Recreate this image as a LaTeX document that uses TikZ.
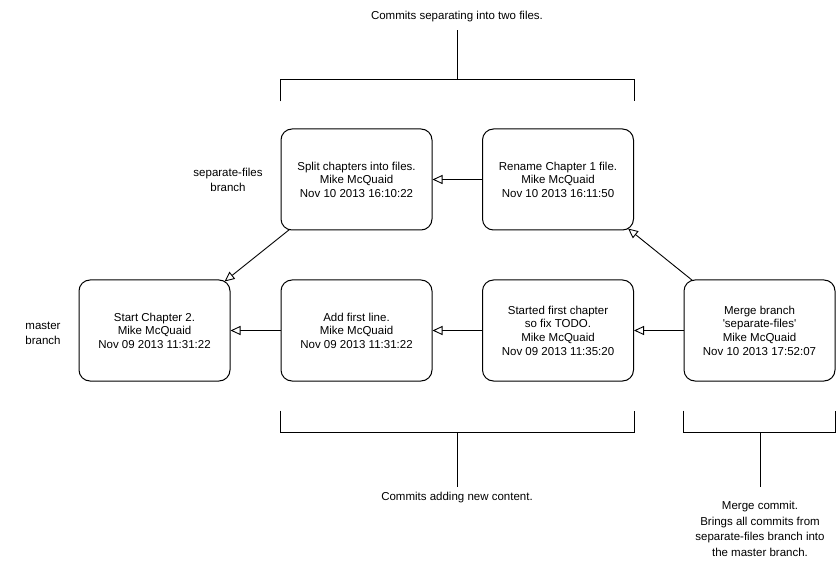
\documentclass[tikz,border=0pt]{standalone}
\usepackage{fontspec}
\setmainfont{Liberation Sans}[Ligatures=TeXOff]
\usetikzlibrary{arrows.meta,calc}
\begin{document}
\begin{tikzpicture}[x=1pt,y=-1pt,
  commit/.style={draw, line width=1pt, rounded corners=11pt, minimum width=151pt, minimum height=101pt, align=center, inner sep=0pt, font=\fontsize{11.5}{13.6}\selectfont},
  lbl/.style={align=center, inner sep=0pt, font=\fontsize{11.5}{15}\selectfont},
  parent/.style={draw, line width=0.9pt, -{Triangle[open, length=10pt, width=9pt, fill=white]}},
  brk/.style={draw, line width=0.9pt}]
\useasboundingbox (0,0) rectangle (838,561);
% commits
\node[commit] (split) at (356.5,179.5) {Split chapters into files.\\Mike McQuaid\\Nov 10 2013 16:10:22};
\node[commit] (rename) at (558,179.5) {Rename Chapter 1 file.\\Mike McQuaid\\Nov 10 2013 16:11:50};
\node[commit] (start) at (154.5,330.5) {Start Chapter 2.\\Mike McQuaid\\Nov 09 2013 11:31:22};
\node[commit] (add) at (356.5,330.5) {Add first line.\\Mike McQuaid\\Nov 09 2013 11:31:22};
\node[commit] (started) at (558,330.5) {Started first chapter\\so fix TODO.\\Mike McQuaid\\Nov 09 2013 11:35:20};
\node[commit] (merge) at (759.5,330.5) {Merge branch\\'separate-files'\\Mike McQuaid\\Nov 10 2013 17:52:07};
% branch labels
\node[lbl] (sfb) at (228,180) {separate-files\\branch};
\node[lbl] (mb) at (43,333) {master\\branch};
% parent arrows
\draw[parent] (rename) -- (split);
\draw[parent] (merge) -- (started);
\draw[parent] (started) -- (add);
\draw[parent] (add) -- (start);
\coordinate (sd) at ($(split.south west)+(9,-1)$);
\coordinate (st) at ($(start.north east)+(-6,2)$);
\draw[parent] (sd) -- (st);
\coordinate (md) at ($(merge.north west)+(9,1)$);
\coordinate (rt) at ($(rename.south east)+(-6,-2)$);
\draw[parent] (md) -- (rt);
% top bracket
\node[lbl] (topt) at (457,17) {Commits separating into two files.};
\coordinate (tl) at ($(split.north west)+(0,-49)$);
\coordinate (tr) at ($(rename.north east)+(0,-49)$);
\draw[brk] ($(split.north west)+(0,-27)$) -- (tl) -- (tr) -- ($(rename.north east)+(0,-27)$);
\draw[brk] (457,80) -- (457,30);
% bottom bracket 1
\coordinate (bl) at ($(add.south west)+(0,51)$);
\coordinate (br) at ($(started.south east)+(0,51)$);
\draw[brk] ($(add.south west)+(0,29)$) -- (bl) -- (br) -- ($(started.south east)+(0,29)$);
\draw[brk] (457,432) -- (457,487);
\node[lbl] (bott) at (457,498) {Commits adding new content.};
% bottom bracket 2
\coordinate (ml) at ($(merge.south west)+(0,51)$);
\coordinate (mr) at ($(merge.south east)+(0,51)$);
\draw[brk] ($(merge.south west)+(0,29)$) -- (ml) -- (mr) -- ($(merge.south east)+(0,29)$);
\draw[brk] (760,432) -- (760,487);
\node[lbl, anchor=north, font=\fontsize{11.5}{15.5}\selectfont] (mct) at (760,501) {Merge commit.\\Brings all commits from\\separate-files branch into\\the master branch.};
\end{tikzpicture}
\end{document}
